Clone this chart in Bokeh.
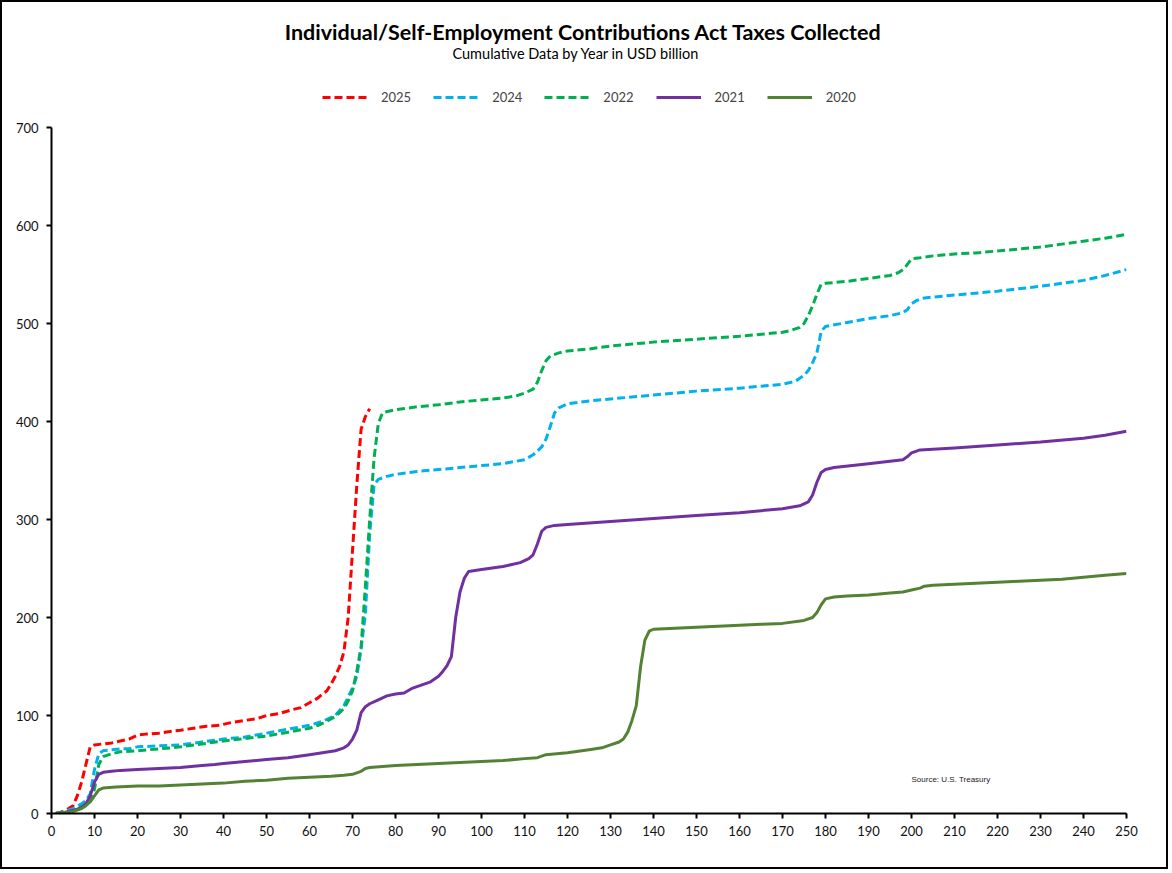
import numpy as np
from bokeh.plotting import figure
from bokeh.models import Legend, LegendItem, Label, FixedTicker, Range1d
from bokeh.embed import file_html
from bokeh.resources import INLINE

# cumulative collections, USD billion, by day index of the year
days_2025 = [1, 2, 3, 4, 5, 6, 7, 8, 9, 10, 12, 14, 16, 18, 20, 22, 25, 28, 30, 33, 36, 39, 42, 45, 48,
             50, 53, 56, 58, 60, 62, 63, 64, 65, 66, 67, 68, 69, 70, 71, 72, 73, 74]
vals_2025 = [0, 1, 3, 5, 8, 18, 32, 50, 68, 70, 71, 72, 74, 76, 80, 81, 82, 84, 85, 87, 89, 90, 93, 95, 97,
             100, 102, 106, 108, 113, 118, 122, 125, 132, 140, 150, 165, 200, 268, 335, 392, 405, 413]

days_2024 = [1, 3, 5, 7, 8, 9, 10, 11, 12, 14, 16, 18, 20, 25, 30, 35, 40, 45, 50, 55, 60, 63, 66, 68, 70,
             71, 72, 73, 74, 75, 76, 78, 80, 85, 90, 95, 100, 105, 110, 112, 114, 115, 116, 117, 118, 120,
             125, 130, 140, 150, 160, 170, 173, 175, 176, 177, 178, 179, 180, 185, 190, 195, 198, 199, 200,
             201, 202, 203, 205, 210, 220, 230, 240, 245, 250]
vals_2024 = [0, 2, 5, 10, 13, 20, 45, 61, 64, 65, 66, 66, 68, 69, 70, 73, 76, 78, 82, 86, 90, 94, 100, 110, 128,
             140, 168, 204, 285, 335, 341, 344, 346, 349, 351, 353, 355, 357, 361, 366, 374, 382, 395, 409, 414, 418,
             421, 423, 427, 431, 434, 438, 441, 447, 452, 460, 470, 492, 497, 501, 505, 508, 511, 514, 520,
             523, 525, 526, 527, 529, 533, 538, 544, 549, 555]

days_2022 = [1, 3, 5, 7, 8, 9, 10, 11, 12, 14, 16, 20, 25, 28, 30, 35, 40, 44, 50, 55, 60, 62, 64, 66, 67,
             68, 69, 70, 71, 72, 73, 74, 75, 76, 77, 80, 85, 90, 95, 100, 105, 108, 110, 112, 113, 114, 115,
             116, 118, 120, 125, 130, 135, 140, 150, 160, 170, 172, 174, 175, 176, 177, 178, 179, 180, 185,
             190, 195, 197, 198, 199, 200, 202, 205, 210, 215, 220, 225, 230, 235, 240, 245, 250]
vals_2022 = [0, 1, 3, 7, 9, 12, 25, 50, 58, 61, 63, 64, 66, 67, 68, 71, 74, 76, 79, 83, 87, 90, 94, 99, 103,
             107, 115, 125, 145, 170, 232, 300, 362, 398, 409, 412, 415, 417, 420, 422, 424, 426, 429, 433, 440, 452, 462,
             467, 470, 472, 474, 477, 479, 481, 484, 487, 491, 493, 496, 500, 508, 518, 530, 540, 541, 543,
             546, 549, 552, 555, 560, 566, 567, 569, 571, 572, 574, 576, 578, 581, 584, 587, 591]

days_2021 = [1, 3, 5, 7, 8, 9, 10, 11, 12, 14, 16, 20, 25, 30, 35, 38, 40, 45, 50, 55, 60, 63, 66, 68, 69,
             70, 71, 72, 73, 74, 76, 78, 80, 82, 84, 86, 88, 90, 91, 92, 93, 94, 95, 96, 97, 100, 105, 109,
             111, 112, 113, 114, 115, 117, 120, 130, 140, 150, 160, 170, 174, 176, 177, 178, 179, 180, 182,
             190, 198, 199, 200, 202, 210, 220, 230, 240, 245, 250]
vals_2021 = [0, 1, 3, 6, 10, 18, 32, 40, 42, 43, 44, 45, 46, 47, 49, 50, 51, 53, 55, 57, 60, 62, 64, 67, 70,
             76, 85, 103, 109, 112, 116, 120, 122, 123, 128, 131, 134, 140, 145, 151, 160, 200, 226, 240, 247, 249, 252, 256,
             260, 264, 275, 288, 292, 294, 295, 298, 301, 304, 307, 311, 314, 318, 325, 338, 348, 351, 353,
             357, 361, 364, 368, 371, 373, 376, 379, 383, 386, 390]

days_2020 = [1, 3, 5, 7, 8, 9, 10, 11, 12, 15, 20, 25, 30, 35, 40, 45, 50, 55, 60, 65, 68, 70, 72, 73, 74,
             77, 80, 85, 90, 95, 100, 105, 110, 113, 115, 120, 125, 128, 130, 132, 133, 134, 135, 136, 137,
             138, 139, 140, 145, 150, 155, 160, 165, 170, 175, 177, 178, 179, 180, 182, 185, 190, 195, 198,
             200, 202, 203, 205, 210, 215, 220, 225, 230, 235, 240, 245, 250]
vals_2020 = [0, 1, 2, 5, 8, 12, 18, 24, 26, 27, 28, 28, 29, 30, 31, 33, 34, 36, 37, 38, 39, 40, 43, 46, 47,
             48, 49, 50, 51, 52, 53, 54, 56, 57, 60, 62, 65, 67, 70, 73, 76, 83, 95, 110, 150,
             177, 186, 188, 189, 190, 191, 192, 193, 194, 197, 200, 205, 213, 219, 221, 222, 223, 225, 226,
             228, 230, 232, 233, 234, 235, 236, 237, 238, 239, 241, 243, 245]

series_names = ["2025", "2024", "2022", "2021", "2020"]
x_ticks = list(range(0, 251, 10))
y_ticks = list(range(0, 701, 100))

FONT = "Lato"
W, H = 1168, 869
ML, MR, MT, MB = 49, 44, 0, 58
FW, FH = W - ML - MR, H - MT - MB
AXIS_H = 686  # px from 0 to 700; the header lives in the frame above that

p = figure(width=W, height=H, output_backend="svg", toolbar_location=None,
           x_range=Range1d(0, 250), y_range=Range1d(0, 700 * FH / AXIS_H), title_location=None,
           min_border_left=ML, min_border_right=MR, min_border_top=MT, min_border_bottom=MB)
p.styles = {"border": "2px solid black"}
p.outline_line_color = None
p.grid.visible = False

specs = [
    (days_2025, vals_2025, "#FF0000", "8 4"),
    (days_2024, vals_2024, "#00B0F0", "8 4"),
    (days_2022, vals_2022, "#00B050", "8 4"),
    (days_2021, vals_2021, "#7030A0", "solid"),
    (days_2020, vals_2020, "#548235", "solid"),
]
items = []
for name, (xs, ys, col, dash) in zip(series_names, specs):
    r = p.line(xs, ys, line_color=col, line_width=3, line_dash=dash, line_join="round")
    items.append(LegendItem(label=name, renderers=[r]))

for ax in (p.xaxis[0], p.yaxis[0]):
    ax.axis_line_width = 2
    ax.axis_line_color = "black"
    ax.major_tick_line_width = 2
    ax.major_tick_line_color = "black"
    ax.major_tick_in = 0
    ax.major_tick_out = 5
    ax.minor_tick_line_color = None
    ax.major_label_text_font = FONT
    ax.major_label_text_font_size = "13px"
    ax.major_label_text_color = "#111111"
p.xaxis.ticker = FixedTicker(ticks=x_ticks)
p.yaxis.ticker = FixedTicker(ticks=y_ticks)
p.yaxis.bounds = (0, 700)
p.xaxis.major_label_standoff = 7
p.yaxis.major_label_standoff = 8

legend = Legend(items=items, orientation="horizontal", location=(271, AXIS_H + 22),
                glyph_width=45, glyph_height=12, label_standoff=14, spacing=22,
                label_text_font=FONT, label_text_font_size="13px",
                border_line_color=None, background_fill_alpha=0, margin=0, padding=4)
p.add_layout(legend)

p.add_layout(Label(x=FW / 2 - 3, y=AXIS_H + 96, x_units="screen", y_units="screen",
                   text="Individual/Self-Employment Contributions  Act Taxes Collected",
                   text_font=FONT, text_font_size="21.5px", text_font_style="bold",
                   text_align="center", text_baseline="middle", text_color="black"))
p.add_layout(Label(x=FW / 2 - 13, y=AXIS_H + 74, x_units="screen", y_units="screen",
                   text="Cumulative Data by Year in USD billion",
                   text_font=FONT, text_font_size="14.5px", text_align="center",
                   text_baseline="middle", text_color="black"))

p.add_layout(Label(x=200, y=35, text="Source:  U.S. Treasury", text_font="Liberation Sans",
                   text_font_size="8px", text_color="#222222", text_baseline="middle"))

open("out.html", "w").write(file_html(p, INLINE))
